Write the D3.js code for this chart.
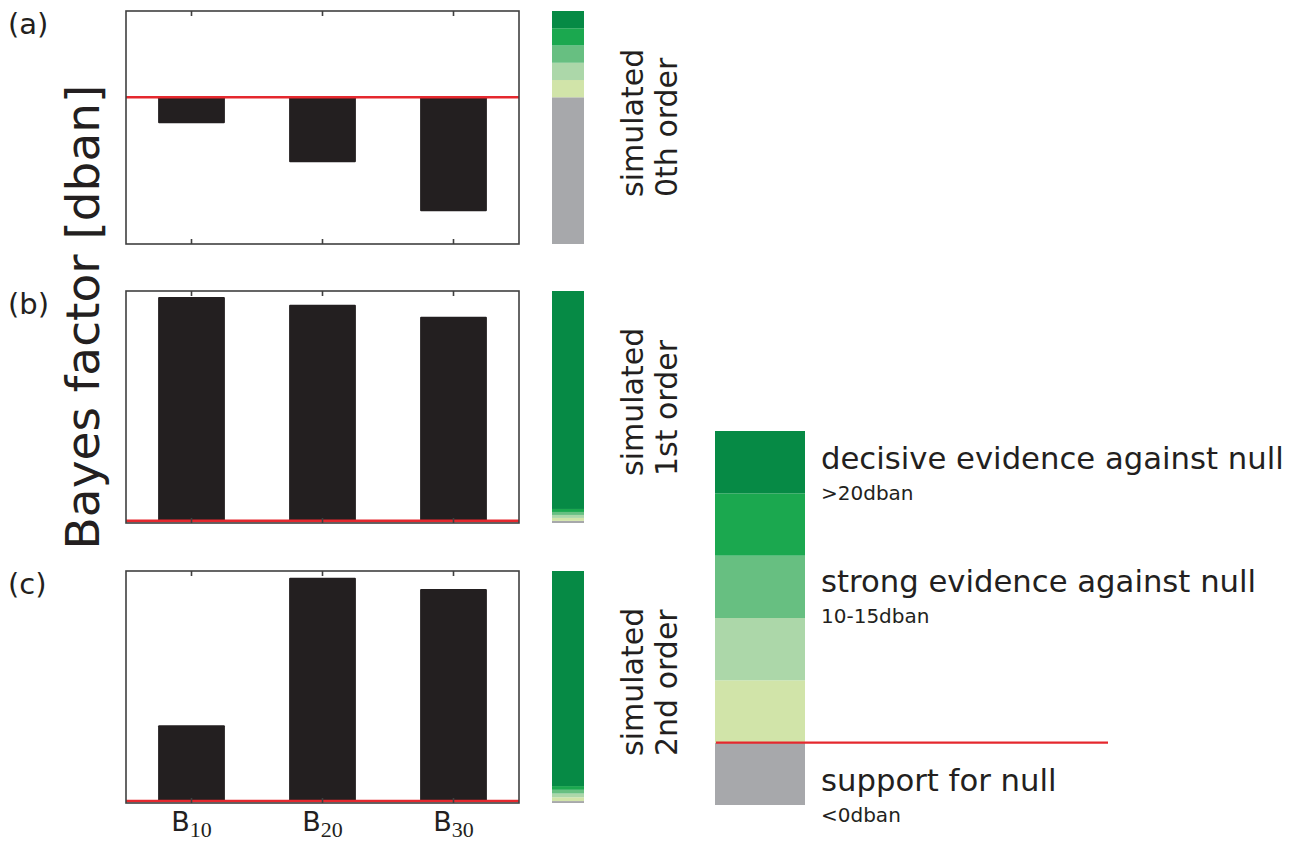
<!DOCTYPE html>
<html>
<head>
<meta charset="utf-8">
<script src="https://cdn.jsdelivr.net/npm/d3@7"></script>
<style>
  html, body { margin: 0; padding: 0; background: #ffffff; }
  svg { display: block; }
  text { font-family: "DejaVu Sans", sans-serif; fill: #231f20; }
</style>
</head>
<body>
<svg id="chart" width="1292" height="843"></svg>
<script>
// Bayes factors (dban) for each simulated model order
const categories = ["10", "20", "30"];            // subscripts of B
const panelTags = ["(a)", "(b)", "(c)"];
const orderNames = ["0th order", "1st order", "2nd order"];
const bayesZeroth = [-7.5, -18.8, -33.0];
const bayesFirst = [375, 362, 342];
const bayesSecond = [101, 298, 283];
const domainZeroth = [-42.5, 25];
const domainFirst = [-3.5, 385];
const domainSecond = [-2.6, 307];

// evidence scale: thresholds (dban) and the colours between them
const evidenceBreaks = [0, 5, 10, 15, 20];
const evidenceColors = ["#a7a8ab", "#d1e4a9", "#acd7a9", "#67bf81", "#1ba84f", "#068a45"];
const legendDomain = [-5, 25];
const legendTitles = ["decisive evidence against null", "strong evidence against null", "support for null"];
const legendRanges = [">20dban", "10-15dban", "<0dban"];
const legendAt = [22.5, 12.5, -2.5];   // band centres the labels sit beside

const panels = [
  { values: bayesZeroth, domain: domainZeroth, top: 11, bottom: 244 },
  { values: bayesFirst, domain: domainFirst, top: 291, bottom: 523 },
  { values: bayesSecond, domain: domainSecond, top: 571, bottom: 803 }
];

const svg = d3.select("#chart");
const RED = "#e5282e";
const BAR = "#231f20";
const FRAME = "#404040";
const left = 126, right = 519;
const cbX = 552, cbW = 32;

const x = d3.scaleBand()
  .domain(categories)
  .range([left, right])
  .paddingInner(0.49)
  .paddingOuter(0.245);

// split [lo, hi] at the evidence thresholds and colour each piece
function bands(lo, hi) {
  const edges = [lo].concat(evidenceBreaks.filter(b => b > lo && b < hi), [hi]);
  const out = [];
  for (let i = 0; i < edges.length - 1; i++) {
    const mid = (edges[i] + edges[i + 1]) / 2;
    const idx = d3.bisectRight(evidenceBreaks, mid);
    out.push({ lo: edges[i], hi: edges[i + 1], color: evidenceColors[idx] });
  }
  return out;
}

panels.forEach((p, i) => {
  const y = d3.scaleLinear().domain(p.domain).range([p.bottom, p.top]);
  const g = svg.append("g");

  // bars
  g.selectAll("rect.bar")
    .data(p.values)
    .join("rect")
    .attr("class", "bar")
    .attr("x", (d, j) => x(categories[j]))
    .attr("width", x.bandwidth())
    .attr("y", d => Math.min(y(d), y(0)))
    .attr("height", d => Math.abs(y(d) - y(0)))
    .attr("rx", 1)
    .attr("fill", BAR);

  // zero line
  g.append("line")
    .attr("x1", left).attr("x2", right)
    .attr("y1", y(0)).attr("y2", y(0))
    .attr("stroke", RED).attr("stroke-width", 2.6);

  // frame
  g.append("rect")
    .attr("x", left).attr("y", p.top)
    .attr("width", right - left).attr("height", p.bottom - p.top)
    .attr("fill", "none").attr("stroke", FRAME).attr("stroke-width", 1.6);

  // inward ticks top and bottom
  const axB = d3.axisBottom(x).tickSize(-5).tickFormat("");
  const axT = d3.axisTop(x).tickSize(-5).tickFormat("");
  [[axB, p.bottom], [axT, p.top]].forEach(([ax, yy]) => {
    const a = g.append("g").attr("transform", `translate(0,${yy})`).call(ax);
    a.select(".domain").remove();
    a.selectAll("line").attr("stroke", FRAME).attr("stroke-width", 1.6);
  });

  // evidence colour strip on the panel's own scale
  g.selectAll("rect.strip")
    .data(bands(p.domain[0], p.domain[1]))
    .join("rect")
    .attr("class", "strip")
    .attr("x", cbX).attr("width", cbW)
    .attr("y", d => y(d.hi))
    .attr("height", d => y(d.lo) - y(d.hi))
    .attr("fill", d => d.color);

  // panel tag
  g.append("text")
    .attr("x", 8).attr("y", p.top + 23)
    .attr("font-size", 29)
    .text(panelTags[i]);

  // "simulated / nth order"
  const t = g.append("text")
    .attr("transform", `translate(0,${p.bottom - 47}) rotate(-90)`)
    .attr("font-size", 30);
  t.append("tspan").attr("x", 0).attr("y", 643).text("simulated");
  t.append("tspan").attr("x", 0).attr("y", 677).text(orderNames[i]);

  // tick labels on the last panel
  if (i === panels.length - 1) {
    const lab = g.selectAll("text.tick")
      .data(categories)
      .join("text")
      .attr("class", "tick")
      .attr("x", d => x(d) + x.bandwidth() / 2)
      .attr("y", 831)
      .attr("text-anchor", "middle");
    lab.append("tspan").attr("font-size", 27).text("B");
    lab.append("tspan")
      .attr("font-family", "'Liberation Serif', 'DejaVu Serif', serif")
      .attr("font-size", 22).attr("dy", 6)
      .text(d => d);
  }
});

// y axis title
svg.append("text")
  .attr("transform", "translate(99,317) rotate(-90)")
  .attr("text-anchor", "middle")
  .attr("font-size", 47)
  .text("Bayes factor [dban]");

// legend
const ly = d3.scaleLinear().domain(legendDomain).range([805, 431]);
const lg = svg.append("g");
lg.selectAll("rect")
  .data(bands(legendDomain[0], legendDomain[1]))
  .join("rect")
  .attr("x", 715).attr("width", 90)
  .attr("y", d => ly(d.hi))
  .attr("height", d => ly(d.lo) - ly(d.hi))
  .attr("fill", d => d.color);
lg.append("line")
  .attr("x1", 716).attr("x2", 1108)
  .attr("y1", ly(0)).attr("y2", ly(0))
  .attr("stroke", RED).attr("stroke-width", 2.2);

const titleShift = [7, 5, 17];
legendTitles.forEach((s, k) => {
  const base = ly(legendAt[k]) + titleShift[k];
  lg.append("text").attr("x", 821).attr("y", base)
    .attr("font-size", 30.7).text(s);
  lg.append("text").attr("x", 821).attr("y", base + 31)
    .attr("font-size", 20).text(legendRanges[k]);
});
</script>
</body>
</html>
